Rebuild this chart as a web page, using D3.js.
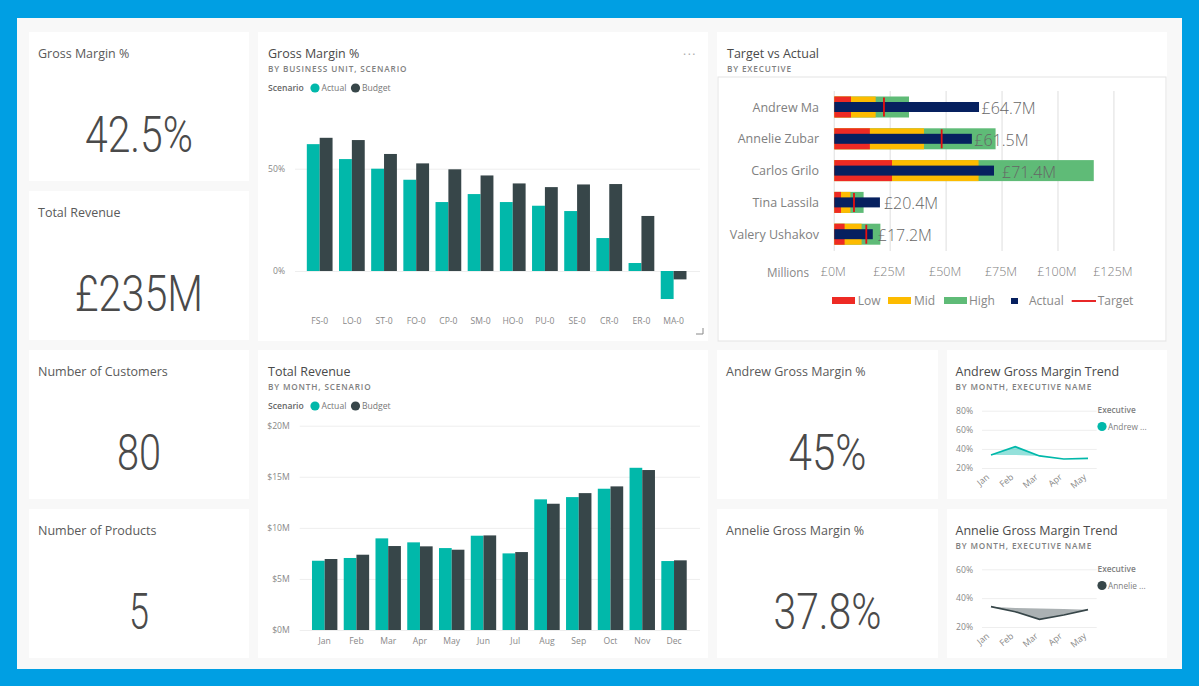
<!DOCTYPE html>
<html>
<head>
<meta charset="utf-8">
<script src="https://cdnjs.cloudflare.com/ajax/libs/d3/7.8.5/d3.min.js"></script>
<style>
  html, body { margin: 0; padding: 0; background: #009fe3; overflow: hidden; }
  text { font-family: "Open Sans", "Noto Sans", sans-serif; }
</style>
</head>
<body>
<svg id="page" width="1199" height="686"></svg>
<script>
const units = ['FS-0','LO-0','ST-0','FO-0','CP-0','SM-0','HO-0','PU-0','SE-0','CR-0','ER-0','MA-0'];
const marginActual = [62, 54.7, 50, 44.6, 33.7, 37.6, 33.7, 31.9, 29.3, 16.1, 3.9, -13.7];
const marginBudget = [65.1, 64, 57.2, 52.6, 49.7, 46.7, 42.8, 41, 42.3, 42.5, 26.9, -4.1];

const months = ['Jan','Feb','Mar','Apr','May','Jun','Jul','Aug','Sep','Oct','Nov','Dec'];
const revenueActual = [6.78, 7.05, 8.97, 8.58, 8.02, 9.23, 7.5, 12.79, 13.01, 13.83, 15.88, 6.75];
const revenueBudget = [6.95, 7.37, 8.22, 8.19, 7.86, 9.26, 7.63, 12.36, 13.4, 14.06, 15.66, 6.82];

const executives = ['Andrew Ma','Annelie Zubar','Carlos Grilo','Tina Lassila','Valery Ushakov'];
const lowEnd = [7.45, 15.9, 25.8, 3, 4.6];
const midEnd = [18.5, 40.1, 64.5, 7.2, 12.2];
const highEnd = [33.4, 72.1, 116, 13.1, 20.6];
const actuals = [64.7, 61.5, 71.4, 20.4, 17.2];
const targets = [22.2, 48, null, 8.8, 14.3];
const bulletTicks = [0, 25, 50, 75, 100, 125];

const trendMonths = ['Jan','Feb','Mar','Apr','May'];
const andrewTrend = [33.6, 42.3, 32.6, 29.4, 30.1];
const andrewRef = [33.6, 33.6, 32.6, 29.4, 30.1];
const annelieTrend = [34.1, 30.6, 25.3, 28.3, 32];
const annelieRef = [34.1, 33.2, 32.8, 32.4, 32];

const teal = '#01b8aa', slate = '#374649';
const svg = d3.select('#page');

// canvas and tiles
svg.append('rect').attr('x', 17).attr('y', 18).attr('width', 1165).attr('height', 651).attr('fill', '#f8f8f8');

function tile(x, y, w, h) {
  const g = svg.append('g').attr('transform', `translate(${x},${y})`);
  g.append('rect').attr('width', w).attr('height', h).attr('fill', '#fff');
  return g;
}

function title(g, text, sub, x = 10) {
  g.append('text').attr('x', x).attr('y', 26).attr('font-size', 12.5).attr('fill', '#4a4a4a').text(text);
  if (sub) g.append('text').attr('x', x).attr('y', 39.5).attr('font-size', 8.2).attr('font-weight', 600)
    .attr('letter-spacing', 0.85).attr('fill', '#808080').text(sub);
}

function card(x, y, w, h, label, value, valueWidth) {
  const g = tile(x, y, w, h);
  g.append('text').attr('x', 9).attr('y', 26).attr('font-size', 12.5).attr('fill', '#5a5a5a').text(label);
  g.append('text').attr('x', w / 2).attr('y', 120).attr('text-anchor', 'middle')
    .style('font-family', 'Roboto').attr('font-weight', 300).attr('font-size', 50).attr('fill', '#4a4a4a')
    .attr('textLength', valueWidth).attr('lengthAdjust', 'spacingAndGlyphs').text(value);
}

card(29, 32, 220, 149, 'Gross Margin %', '42.5%', 108);
card(29, 191, 220, 149, 'Total Revenue', '£235M', 128);
card(29, 350, 220, 149, 'Number of Customers', '80', 44);
card(29, 509, 220, 149, 'Number of Products', '5', 20);
card(717, 350, 221, 149, 'Andrew Gross Margin %', '45%', 78);
card(717, 509, 221, 149, 'Annelie Gross Margin %', '37.8%', 108);

function legend(g, y) {
  g.append('text').attr('x', 10).attr('y', y + 3).attr('font-size', 8.6).attr('font-weight', 600).attr('fill', '#666').text('Scenario');
  [['Actual', teal, 57, 63.5], ['Budget', slate, 97.5, 104]].forEach(([name, color, cx, tx]) => {
    g.append('circle').attr('cx', cx).attr('cy', y).attr('r', 4.6).attr('fill', color);
    g.append('text').attr('x', tx).attr('y', y + 3).attr('font-size', 8.6).attr('fill', '#777').text(name);
  });
}

function groupedBars(g, o) {
  const x = d3.scaleBand().domain(o.cats).range(o.xRange).paddingInner(0.2).paddingOuter(0.1);
  const y = d3.scaleLinear().domain(o.yDomain).range(o.yRange);
  const axisY = d3.axisLeft(y).tickValues(o.ticks).tickFormat(o.fmt).tickSize(-(o.gridEnd - o.gridStart)).tickPadding(10);
  const ga = g.append('g').attr('transform', `translate(${o.gridStart},0)`).call(axisY);
  ga.select('.domain').remove();
  ga.selectAll('line').attr('stroke', '#eeeeee').attr('x2', o.gridEnd - o.gridStart);
  ga.selectAll('text').attr('font-size', 8.6).attr('fill', '#888');

  const inner = d3.scaleBand().domain([0, 1]).range([0, x.bandwidth()]);
  [o.a, o.b].forEach((vals, k) => {
    g.append('g').selectAll('rect').data(vals).join('rect')
      .attr('x', (d, i) => x(o.cats[i]) + inner(k))
      .attr('y', d => Math.min(y(d), y(0)))
      .attr('width', inner.bandwidth())
      .attr('height', d => Math.abs(y(d) - y(0)))
      .attr('fill', k ? slate : teal);
  });

  const axisX = d3.axisBottom(x).tickSize(0);
  const gx = g.append('g').attr('transform', `translate(0,${o.labelY})`).call(axisX);
  gx.select('.domain').remove();
  gx.selectAll('text').attr('font-size', 8.6).attr('fill', '#888');
}

// Gross Margin % by business unit
const gm = tile(258, 32, 450, 309);
title(gm, 'Gross Margin %', 'BY BUSINESS UNIT, SCENARIO');
legend(gm, 56);
groupedBars(gm, {
  cats: units, a: marginActual, b: marginBudget,
  xRange: [45.6, 431.7], yDomain: [0, 50], yRange: [239, 136.7],
  ticks: [0, 50], fmt: d => d + '%', gridStart: 37, gridEnd: 442, labelY: 283
});
gm.append('text').attr('x', 425).attr('y', 23).attr('font-size', 12).attr('letter-spacing', 1.5).attr('fill', '#aaa').text('...');
gm.append('path').attr('d', 'M445 296 V302 H438').attr('fill', 'none').attr('stroke', '#888');

// Total Revenue by month
const rev = tile(258, 350, 450, 308);
title(rev, 'Total Revenue', 'BY MONTH, SCENARIO');
legend(rev, 56);
groupedBars(rev, {
  cats: months, a: revenueActual, b: revenueBudget,
  xRange: [50.8, 431.9], yDomain: [0, 20], yRange: [280, 75.7],
  ticks: [0, 5, 10, 15, 20], fmt: d => '$' + d + 'M', gridStart: 41.7, gridEnd: 442, labelY: 285
});

// Target vs Actual bullet chart
const tva = tile(717, 32, 450, 309);
title(tva, 'Target vs Actual', 'BY EXECUTIVE');
tva.append('rect').attr('x', 1).attr('y', 45).attr('width', 448).attr('height', 264)
  .attr('fill', '#fff').attr('stroke', '#e3e3e3');

const bx = d3.scaleLinear().domain([0, 125]).range([117.3, 396.9]);
const by = d3.scaleBand().domain(executives).range([59.1, 218.1]);
const rangeH = 21, actualH = 10;

tva.append('g').selectAll('line').data(bulletTicks).join('line')
  .attr('x1', d => bx(d)).attr('x2', d => bx(d)).attr('y1', 59).attr('y2', 219)
  .attr('stroke', '#e8e8e8').attr('stroke-width', 1.4);

[[highEnd, '#5fbb77'], [midEnd, '#fdbb00'], [lowEnd, '#ee2a24']].forEach(([vals, color]) => {
  tva.append('g').selectAll('rect').data(vals).join('rect')
    .attr('x', bx(0)).attr('y', (d, i) => by(executives[i]) + by.bandwidth() / 2 - rangeH / 2)
    .attr('width', d => bx(d) - bx(0)).attr('height', rangeH).attr('fill', color);
});
tva.append('g').selectAll('rect').data(actuals).join('rect')
  .attr('x', bx(0)).attr('y', (d, i) => by(executives[i]) + by.bandwidth() / 2 - actualH / 2)
  .attr('width', d => bx(d) - bx(0)).attr('height', actualH).attr('fill', '#06205f');
tva.append('g').selectAll('line').data(targets.map((t, i) => [t, i]).filter(d => d[0] != null)).join('line')
  .attr('x1', d => bx(d[0])).attr('x2', d => bx(d[0]))
  .attr('y1', d => by(executives[d[1]]) + by.bandwidth() / 2 - 9.5)
  .attr('y2', d => by(executives[d[1]]) + by.bandwidth() / 2 + 9.5)
  .attr('stroke', '#e60f0f').attr('stroke-width', 1.8);

tva.append('g').selectAll('text').data(executives).join('text')
  .attr('x', 102).attr('y', d => by(d) + by.bandwidth() / 2 + 4.5).attr('text-anchor', 'end')
  .attr('font-size', 12.5).attr('fill', '#808080').text(d => d);
const labelNudge = [0, 0, 5.5, 1.5, 2.5];
tva.append('g').selectAll('text').data(actuals).join('text')
  .attr('x', (d, i) => bx(d) + 2.5 + labelNudge[i]).attr('y', (d, i) => by(executives[i]) + by.bandwidth() / 2 + 7)
  .attr('font-size', 16).attr('font-weight', 300).attr('fill', '#666').text(d => '£' + d + 'M');

const bAxis = tva.append('g').attr('transform', 'translate(-1.5,244)')
  .call(d3.axisBottom(bx).tickValues(bulletTicks).tickSize(0).tickFormat(d => '£' + d + 'M'));
bAxis.select('.domain').remove();
bAxis.selectAll('text').attr('y', 0).attr('dy', 0).attr('font-size', 12.5).attr('font-weight', 300).attr('fill', '#808080');
tva.append('text').attr('x', 50).attr('y', 244.5).attr('font-size', 11.7).attr('fill', '#888').text('Millions');

const bLegend = [['Low', '#ee2a24', 115, 140.7], ['Mid', '#fdbb00', 171, 197], ['High', '#5fbb77', 227, 252]];
bLegend.forEach(([name, color, rx, tx]) => {
  tva.append('rect').attr('x', rx).attr('y', 265).attr('width', 23).attr('height', 7).attr('fill', color);
  tva.append('text').attr('x', tx).attr('y', 273).attr('font-size', 12).attr('fill', '#888').text(name);
});
tva.append('rect').attr('x', 294).attr('y', 266).attr('width', 7).attr('height', 6).attr('fill', '#06205f');
tva.append('text').attr('x', 312).attr('y', 273).attr('font-size', 12).attr('fill', '#888').text('Actual');
tva.append('line').attr('x1', 354.7).attr('x2', 379).attr('y1', 269).attr('y2', 269).attr('stroke', '#e60f0f').attr('stroke-width', 1.8);
tva.append('text').attr('x', 380.7).attr('y', 273).attr('font-size', 12).attr('fill', '#888').text('Target');

function trend(x0, y0, name, color, vals, ref, domain, ticks, yRange, legendText) {
  const g = tile(x0, y0, 220, 149);
  title(g, name, 'BY MONTH, EXECUTIVE NAME', 8.5);
  const x = d3.scalePoint().domain(trendMonths).range([44, 141]);
  const y = d3.scaleLinear().domain(domain).range(yRange);
  const ax = g.append('g').attr('transform', 'translate(35,0)')
    .call(d3.axisLeft(y).tickValues(ticks).tickSize(-114.7).tickPadding(9).tickFormat(d => d + '%'));
  ax.select('.domain').remove();
  ax.selectAll('line').attr('stroke', '#eeeeee');
  ax.selectAll('text').attr('font-size', 8.6).attr('fill', '#888');

  g.append('path').attr('fill', color).attr('fill-opacity', 0.42)
    .attr('d', d3.area().x((d, i) => x(trendMonths[i])).y0((d, i) => y(ref[i])).y1(d => y(d))(vals));
  g.append('path').attr('fill', 'none').attr('stroke', color).attr('stroke-width', 1.7)
    .attr('d', d3.line().x((d, i) => x(trendMonths[i])).y(d => y(d))(vals));

  const base = yRange[0];
  g.append('g').selectAll('text').data(trendMonths).join('text')
    .attr('transform', d => `translate(${x(d) - 1},${base + 10}) rotate(-40)`)
    .attr('text-anchor', 'end').attr('font-size', 8.8).attr('fill', '#888').text(d => d);

  g.append('text').attr('x', 150.5).attr('y', 62.5).attr('font-size', 8.3).attr('font-weight', 600).attr('fill', '#808080').text('Executive');
  g.append('circle').attr('cx', 155).attr('cy', 76.5).attr('r', 4.6).attr('fill', color);
  g.append('text').attr('x', 161).attr('y', 80).attr('font-size', 8.3).attr('fill', '#808080').text(legendText);
}

trend(947, 350, 'Andrew Gross Margin Trend', teal, andrewTrend, andrewRef, [20, 80], [20, 40, 60, 80], [118, 60.7], 'Andrew ...');
trend(947, 509, 'Annelie Gross Margin Trend', slate, annelieTrend, annelieRef, [20, 60], [20, 40, 60], [118, 60.3], 'Annelie ...');
</script>
</body>
</html>
